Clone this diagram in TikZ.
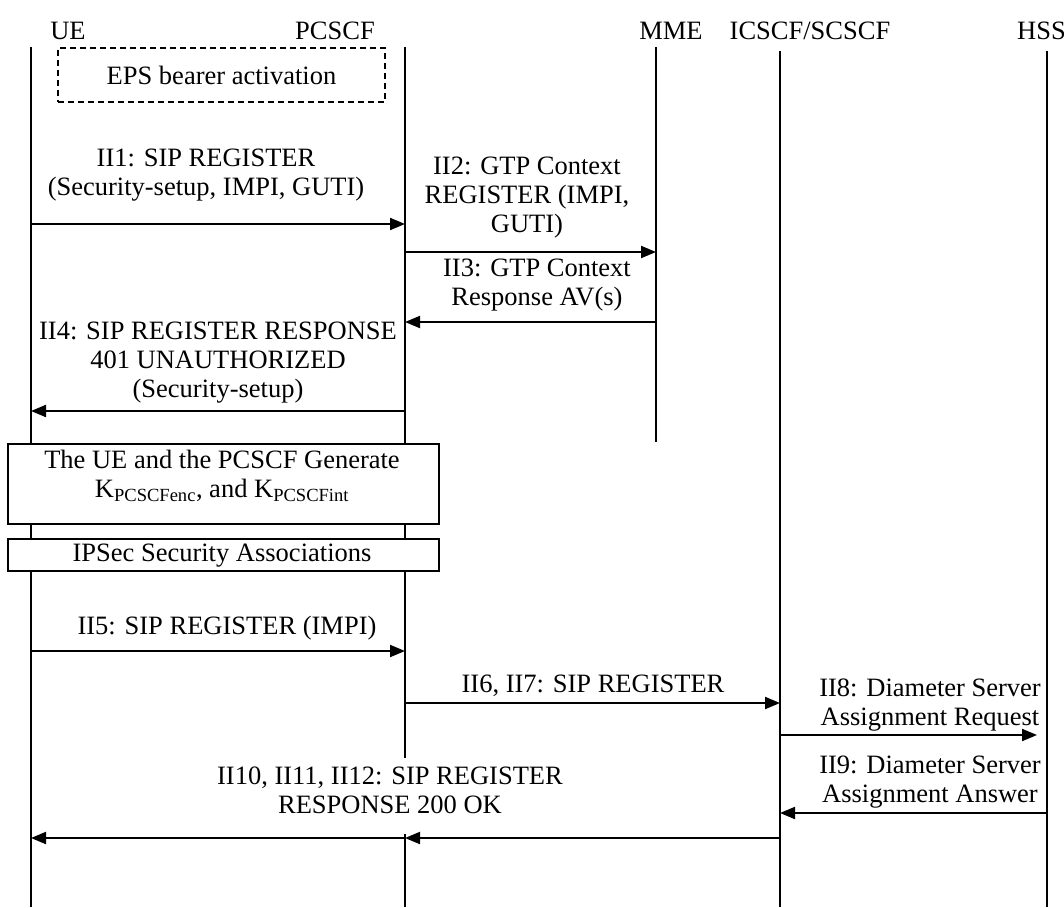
\documentclass[tikz,border=0pt]{standalone}
\usepackage{fontspec}
\setmainfont{Liberation Serif}
\usetikzlibrary{arrows.meta}
\begin{document}
\begin{tikzpicture}[x=1pt,y=-1pt,
  every node/.style={inner sep=0pt,font=\fontsize{26.5}{29}\selectfont},
  lbl/.style={align=center},
  head/.style={anchor=center},
  life/.style={line width=1.5pt},
  msg/.style={line width=2pt,-{Triangle[length=15pt,width=12pt]}},
  framebox/.style={draw,line width=1.8pt,fill=white},
  mask/.style={fill=white},
  dashbox/.style={draw,line width=1.5pt,dash pattern=on 6pt off 4pt,align=center}]
\useasboundingbox (0,0) rectangle (1064,907);

% entity headers
\node[head] (hUE) at (68,31) {UE};
\node[head] (hPC) at (335,31) {PCSCF};
\node[head] (hMME) at (671,31) {MME};
\node[head] (hIC) at (810,31) {ICSCF/SCSCF};
\node[head,anchor=east] (hHSS) at (1066,31) {HSS};

% lifelines
\coordinate (ueT) at (31,47);   \coordinate (ueB) at (31,907);
\coordinate (pcT) at (405,47);  \coordinate (pcB) at (405,907);
\coordinate (mmeT) at (656,47); \coordinate (mmeB) at (656,442);
\coordinate (icT) at (780,51);  \coordinate (icB) at (780,907);
\coordinate (hsT) at (1047,51); \coordinate (hsB) at (1047,907);
\draw[life] (ueT) -- (ueB);
\draw[life] (pcT) -- (pcB);
\draw[life] (mmeT) -- (mmeB);
\draw[life] (icT) -- (icB);
\draw[life] (hsT) -- (hsB);

% the final response label sits on a white ground over the PCSCF lifeline
\node[mask,minimum width=350pt,minimum height=76pt] (t10bg) at (390,796) {};

% bearer activation
\node[dashbox,minimum width=327pt,minimum height=54pt] (eps) at (221.5,75) {EPS bearer activation};

% message end points on the lifelines
\coordinate (ue1) at (31,224);  \coordinate (pc1) at (405,224);
\coordinate (pc2) at (405,252); \coordinate (mme2) at (656,252);
\coordinate (mme3) at (656,322);\coordinate (pc3) at (405,322);
\coordinate (pc4) at (405,411); \coordinate (ue4) at (31,411);
\coordinate (ue5) at (31,651);  \coordinate (pc5) at (405,651);
\coordinate (pc6) at (405,703); \coordinate (ic6) at (780,703);
\coordinate (ic8) at (780,735); \coordinate (hs8) at (1047,735);
\coordinate (hs9) at (1047,813);\coordinate (ic9) at (780,813);
\coordinate (ic10) at (780,838);\coordinate (pc10) at (405,838);
\coordinate (ue10) at (31,838);

\draw[msg] (ue1) -- (pc1);
\draw[msg] (pc2) -- (mme2);
\draw[msg] (mme3) -- (pc3);
\draw[msg] (pc4) -- (ue4);
\draw[msg] (ue5) -- (pc5);
\draw[msg] (pc6) -- (ic6);
\draw[msg,shorten >=10pt] (ic8) -- (hs8);
\draw[msg] (hs9) -- (ic9);
\draw[msg] (ic10) -- (pc10);
\draw[msg] (pc10) -- (ue10);

% message labels
\node[lbl] (t1) at (206,175) {II1: SIP REGISTER\\(Security-setup, IMPI, GUTI)};
\node[lbl] (t2) at (527,198) {II2: GTP Context\\REGISTER (IMPI,\\GUTI)};
\node[lbl] (t3) at (537,285) {II3: GTP Context\\Response AV(s)};
\node[lbl] (t4) at (218,363) {II4: SIP REGISTER RESPONSE\\401 UNAUTHORIZED\\(Security-setup)};
\node[lbl] (t5) at (227,628) {II5: SIP REGISTER (IMPI)};
\node[lbl] (t6) at (593,686) {II6, II7: SIP REGISTER};
\node[lbl] (t8) at (930,705) {II8: Diameter Server\\Assignment Request};
\node[lbl] (t9) at (930,782) {II9: Diameter Server\\Assignment Answer};
\node[lbl] (t10) at (390,790) {II10, II11, II12: SIP REGISTER\\RESPONSE 200 OK};

% key derivation and security associations
\node[framebox,minimum width=431pt,minimum height=80pt] (keys) at (223.5,484) {};
\node[lbl] (keystxt) at (222,476)
  {The UE and the PCSCF Generate\\K\textsubscript{PCSCFenc}, and K\textsubscript{PCSCFint}};
\node[framebox,minimum width=431pt,minimum height=32pt] (ipsec) at (223.5,555) {};
\node (ipsectxt) at (222,556) {IPSec Security Associations};
\end{tikzpicture}
\end{document}
